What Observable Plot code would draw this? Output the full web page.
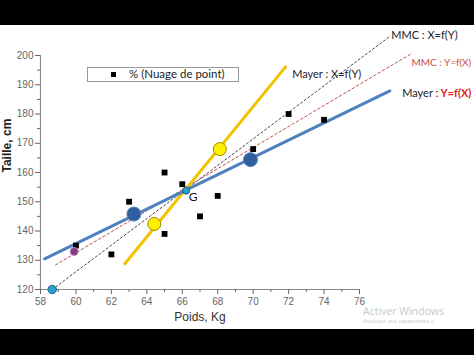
<!DOCTYPE html>
<html><head><meta charset="utf-8">
<script src="https://cdn.jsdelivr.net/npm/d3@7"></script>
<script src="https://cdn.jsdelivr.net/npm/@observablehq/plot@0.6"></script>
<style>
body{margin:0;background:#fff;width:474px;height:355px;overflow:hidden;position:relative;font-family:"Liberation Sans",Arial,sans-serif}
#chart{position:absolute;left:0;top:0}
.band{position:absolute;left:0;width:474px;background:#000;z-index:5}
#legend{position:absolute;left:87px;top:67px;width:150px;height:13px;border:1px solid #999;background:#fff;font-size:11.5px;font-family:Lato,sans-serif;color:#222;z-index:3}
#legend .sq{position:absolute;left:23px;top:4px;width:5px;height:5px;background:#000}
#legend .tx{position:absolute;left:41px;top:-1px;white-space:nowrap}
.wm1{position:absolute;left:363px;top:306px;font-size:10.5px;line-height:11px;color:#c8c8c8;font-family:"Open Sans",sans-serif;white-space:nowrap}
.wm2{position:absolute;left:363px;top:318px;font-size:6px;line-height:7px;color:#d0d0d0;white-space:nowrap}
</style></head><body>
<div class="band" style="top:0;height:25px"></div>
<div class="band" style="top:329px;height:26px"></div>
<div id="legend"><div class="sq"></div><div class="tx">% (Nuage de point)</div></div>
<div class="wm1">Activer Windows</div>
<div class="wm2">Accédez aux paramètres o</div>
<div id="chart"></div>
<script>
// Scatter data (Nuage de point)
const poids = [60, 62, 63, 65, 65, 66, 67, 68, 70, 72, 74];
const taille = [135, 132, 150, 160, 139, 156, 145, 152, 168, 180, 178];

// Fitted lines (endpoints)
const mayerYX_x = [58.23, 77.71], mayerYX_y = [130.5, 187.9];   // Mayer : Y=f(X) (blue)
const mayerXY_x = [62.76, 71.83], mayerXY_y = [128.8, 196.1];   // Mayer : X=f(Y) (yellow)
const mmcXY_x = [58.66, 77.75], mmcXY_y = [120, 206.7];         // MMC : X=f(Y) (black dashed)
const mmcYX_x = [58.85, 78.97], mmcYX_y = [128.4, 200.8];       // MMC : Y=f(X) (red dashed)

// Group means (Mayer) and special points
const blueMeansX = [63.27, 69.85], blueMeansY = [145.8, 164.4];
const yellowMeansX = [64.42, 68.12], yellowMeansY = [142.4, 168.0];
const gX = 66.22, gY = 153.8;
const cyanX = 58.66, cyanY = 120;
const purpleX = 59.9, purpleY = 133;

// Axis ticks
const xTicks = d3.range(58, 77, 2);
const xMinor = d3.range(59, 76, 2);
const yTicks = d3.range(120, 201, 10);
const yMinor = d3.range(125, 200, 10);

const toPts = (xs, ys) => xs.map((x, i) => ({x, y: ys[i]}));
const scatter = toPts(poids, taille);
const lab = "Lato, sans-serif";

const chart = Plot.plot({
  width: 474, height: 355,
  marginLeft: 40, marginRight: 115, marginTop: 55, marginBottom: 66,
  x: {domain: [58, 76]},
  y: {domain: [120, 200]},
  style: {fontFamily: "Liberation Sans, Arial, sans-serif", fontSize: "10px", background: "transparent", overflow: "visible"},
  marks: [
    Plot.ruleY([120], {stroke: "#8a8a8a", strokeWidth: 1.2}),
    Plot.ruleX([58], {stroke: "#8a8a8a", strokeWidth: 1.2}),
    Plot.axisX({ticks: xTicks, tickSize: 5, tickPadding: 3, tickFormat: d => d, color: "#666", label: null, fontSize: 10}),
    Plot.axisX({ticks: xMinor, tickSize: 3, tickFormat: () => "", color: "#666", label: null}),
    Plot.axisY({ticks: yTicks, tickSize: 5, tickPadding: 2, tickFormat: d => d, color: "#666", label: null, fontSize: 10}),
    Plot.axisY({ticks: yMinor, tickSize: 3, tickFormat: () => "", color: "#666", label: null}),
    Plot.line(toPts(mmcXY_x, mmcXY_y), {x: "x", y: "y", stroke: "#444", strokeWidth: 1, strokeDasharray: "2,2.5"}),
    Plot.line(toPts(mmcYX_x, mmcYX_y), {x: "x", y: "y", stroke: "#c0504d", strokeWidth: 1, strokeDasharray: "2.5,2.5"}),
    Plot.line(toPts(mayerXY_x, mayerXY_y), {x: "x", y: "y", stroke: "#f2c200", strokeWidth: 3}),
    Plot.line(toPts(mayerYX_x, mayerYX_y), {x: "x", y: "y", stroke: "#4f81bd", strokeWidth: 3}),
    Plot.dot(scatter, {x: "x", y: "y", symbol: "square", r: 3.3, fill: "#000", stroke: "none"}),
    Plot.dot(toPts(blueMeansX, blueMeansY), {x: "x", y: "y", r: 7, fill: "#2f5f9e", stroke: "#4f81bd", strokeWidth: 1}),
    Plot.dot(toPts(yellowMeansX, yellowMeansY), {x: "x", y: "y", r: 6.5, fill: "#ffee00", stroke: "#a08a00", strokeWidth: 1}),
    Plot.dot([{x: purpleX, y: purpleY}], {x: "x", y: "y", r: 4, fill: "#7b3f7b", stroke: "#c080c0", strokeWidth: 1}),
    Plot.dot([{x: cyanX, y: cyanY}], {x: "x", y: "y", r: 4.2, fill: "#2aa0d0", stroke: "#1a5f80", strokeWidth: 1}),
    Plot.dot([{x: gX, y: gY}], {x: "x", y: "y", r: 3.5, fill: "#2aa0d0", stroke: "#1a5f80", strokeWidth: 1}),
    Plot.text(["G"], {x: 66.62, y: 151.5, fontSize: 12, fontFamily: lab, fill: "#111", textAnchor: "middle"}),
    Plot.text(["MMC : X=f(Y)"], {x: 77.79, y: 206.7, fontSize: 11, fontFamily: lab, fill: "#222", textAnchor: "start"}),
    Plot.text(["MMC : Y=f(X)"], {x: 78.93, y: 197.6, fontSize: 10, fontFamily: lab, fill: "#c0504d", textAnchor: "start"}),
    Plot.text(["Mayer : X=f(Y)"], {x: 72.2, y: 193.6, fontSize: 11, fontFamily: lab, fill: "#222", textAnchor: "start"}),
    Plot.text(["Mayer : "], {x: 78.41, y: 187, fontSize: 11, fontFamily: lab, fill: "#222", textAnchor: "start"}),
    Plot.text(["Y=f(X)"], {x: 80.57, y: 187, fontSize: 11, fontFamily: lab, fill: "#e02020", fontWeight: "bold", textAnchor: "start"}),
    Plot.text(["Taille, cm"], {frameAnchor: "left", dx: -33, rotate: -90, fontSize: 12, fontWeight: "bold", fill: "#222"}),
    Plot.text(["Poids, Kg"], {frameAnchor: "bottom", dy: 31, fontSize: 12, fill: "#333"})
  ]
});
document.getElementById("chart").appendChild(chart);
</script>
</body></html>
